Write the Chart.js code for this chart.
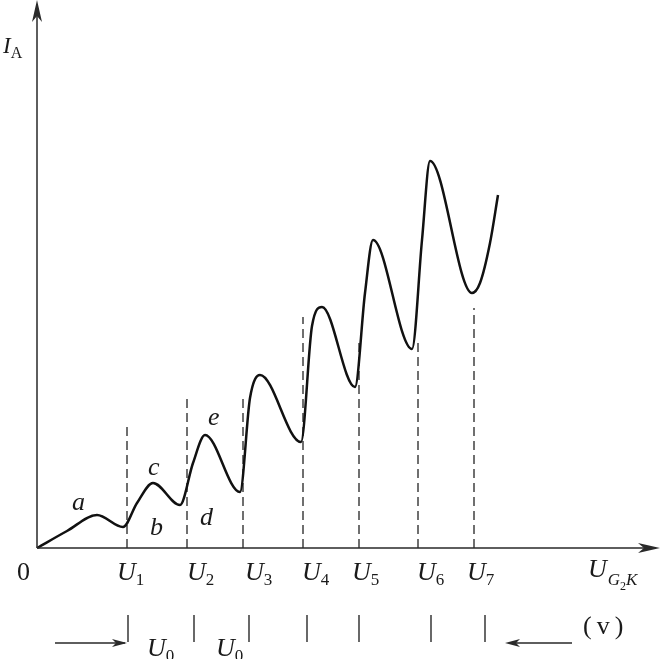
<!DOCTYPE html>
<html>
<head>
<meta charset="utf-8">
<script src="https://cdn.jsdelivr.net/npm/chart.js@4"></script>
<style>
  html, body { margin: 0; padding: 0; background: #fff; }
  canvas { display: block; }
</style>
</head>
<body>
<canvas id="fhChart" width="660" height="659"></canvas>
<script>
// anode current vs accelerating voltage (arbitrary units)
const curveX = [0, 30, 60, 86, 100, 116, 143, 156, 168, 203, 213, 223, 264, 275, 285, 318, 328, 336, 375, 385, 393, 435, 443, 453, 461];
const curveY = [0, 17, 33, 21, 45, 65, 43, 85, 113, 56, 150, 173, 106, 222, 241, 161, 255, 308, 199, 308, 387, 255, 265, 305, 353];

// U1..U7 dashed markers
const uNames = ['1', '2', '3', '4', '5', '6', '7'];
const uLevels = [90, 150, 206, 266, 322, 381, 437];
const dashTops = [125, 151, 150, 231, 205, 205, 240];

// small ticks on the lower (v) row
const rowMarks = [91, 157, 212, 270, 322, 394, 448];

const xMin = -37, xMax = 623, yMin = -111, yMax = 548;

const curve = curveX.map((x, i) => ({ x: x, y: curveY[i] }));

const dashSets = uLevels.map((x, i) => ({
  data: [{ x: x, y: 0 }, { x: x, y: dashTops[i] }],
  showLine: true,
  borderColor: '#333',
  borderWidth: 1.4,
  borderDash: [9, 5],
  pointRadius: 0
}));

function dart(ctx, tx, ty, dx, dy, len, half, notch) {
  // filled arrowhead pointing along (dx,dy)
  const nx = -dy, ny = dx;
  ctx.beginPath();
  ctx.moveTo(tx, ty);
  ctx.lineTo(tx - dx * len + nx * half, ty - dy * len + ny * half);
  ctx.lineTo(tx - dx * (len - notch), ty - dy * (len - notch));
  ctx.lineTo(tx - dx * len - nx * half, ty - dy * len - ny * half);
  ctx.closePath();
  ctx.fill();
}

const decor = {
  id: 'decor',
  afterDraw(chart) {
    const ctx = chart.ctx;
    const sx = chart.scales.x, sy = chart.scales.y;
    const X = v => sx.getPixelForValue(v);
    const Y = v => sy.getPixelForValue(v);

    ctx.save();
    ctx.strokeStyle = '#2a2a2a';
    ctx.fillStyle = '#2a2a2a';
    ctx.lineWidth = 1.5;

    // axes
    ctx.beginPath();
    ctx.moveTo(X(0), Y(0));
    ctx.lineTo(X(0), Y(yMax) + 4);
    ctx.moveTo(X(0), Y(0));
    ctx.lineTo(X(xMax) - 4, Y(0));
    ctx.stroke();
    dart(ctx, X(0), Y(yMax), 0, -1, 22, 5, 6);
    dart(ctx, X(xMax), Y(0), 1, 0, 22, 5, 6);

    // lower row ticks and arrows
    ctx.lineWidth = 1.4;
    ctx.beginPath();
    rowMarks.forEach(m => {
      ctx.moveTo(X(m), Y(-67));
      ctx.lineTo(X(m), Y(-94));
    });
    ctx.moveTo(X(18), Y(-95));
    ctx.lineTo(X(88), Y(-95));
    ctx.moveTo(X(535), Y(-95));
    ctx.lineTo(X(472), Y(-95));
    ctx.stroke();
    dart(ctx, X(90), Y(-95), 1, 0, 15, 4, 4);
    dart(ctx, X(468), Y(-95), -1, 0, 15, 4, 4);

    // text
    ctx.fillStyle = '#1a1a1a';
    ctx.textBaseline = 'alphabetic';
    ctx.textAlign = 'left';
    const it = 'italic 26px "Liberation Serif", "DejaVu Serif", serif';
    const rm = '26px "Liberation Serif", "DejaVu Serif", serif';
    const sub = '17px "Liberation Serif", "DejaVu Serif", serif';
    const subIt = 'italic 17px "Liberation Serif", "DejaVu Serif", serif';

    function withSub(x, y, main, s, mainFont, subFont, drop) {
      ctx.font = mainFont;
      ctx.fillText(main, x, y);
      const w = ctx.measureText(main).width;
      ctx.font = subFont;
      ctx.fillText(s, x + w, y + drop);
    }

    // y-axis title I_A
    withSub(X(-34), Y(495), 'I', 'A', 'italic 23px "Liberation Serif", serif', '16px "Liberation Serif", serif', 5);

    // origin
    ctx.font = rm;
    ctx.fillText('0', X(-20), Y(-32));

    // U1..U7 under the axis
    const labelX = [80, 150, 208, 265, 315, 380, 430];
    uNames.forEach((n, i) => withSub(X(labelX[i]), Y(-32), 'U', n, it, sub, 5));

    // U_{G2K}
    ctx.font = it;
    ctx.fillText('U', X(551), Y(-29));
    let gx = X(551) + ctx.measureText('U').width + 1;
    ctx.font = subIt;
    ctx.fillText('G', gx, Y(-37));
    gx += ctx.measureText('G').width;
    ctx.font = '12px "Liberation Serif", serif';
    ctx.fillText('2', gx, Y(-42));
    gx += ctx.measureText('2').width;
    ctx.font = subIt;
    ctx.fillText('K', gx, Y(-37));

    // U0 spacing labels
    withSub(X(110), Y(-108), 'U', '0', it, sub, 5);
    withSub(X(179), Y(-108), 'U', '0', it, sub, 5);

    // unit
    ctx.font = rm;
    ctx.letterSpacing = '5px';
    ctx.fillText('(v)', X(546), Y(-86));
    ctx.letterSpacing = '0px';

    // curve region letters
    ctx.font = it;
    ctx.fillText('a', X(35), Y(38));
    ctx.fillText('c', X(111), Y(73));
    ctx.fillText('b', X(113), Y(13));
    ctx.fillText('d', X(163), Y(23));
    ctx.fillText('e', X(171), Y(123));

    ctx.restore();
  }
};

new Chart(document.getElementById('fhChart'), {
  type: 'scatter',
  data: {
    datasets: [{
      data: curve,
      showLine: true,
      borderColor: '#111',
      borderWidth: 2.5,
      pointRadius: 0,
      cubicInterpolationMode: 'monotone'
    }].concat(dashSets)
  },
  options: {
    responsive: false,
    animation: false,
    layout: { padding: 0 },
    plugins: { legend: { display: false }, tooltip: { enabled: false } },
    scales: {
      x: { type: 'linear', min: xMin, max: xMax, display: false },
      y: { type: 'linear', min: yMin, max: yMax, display: false }
    }
  },
  plugins: [decor]
});
</script>
</body>
</html>
